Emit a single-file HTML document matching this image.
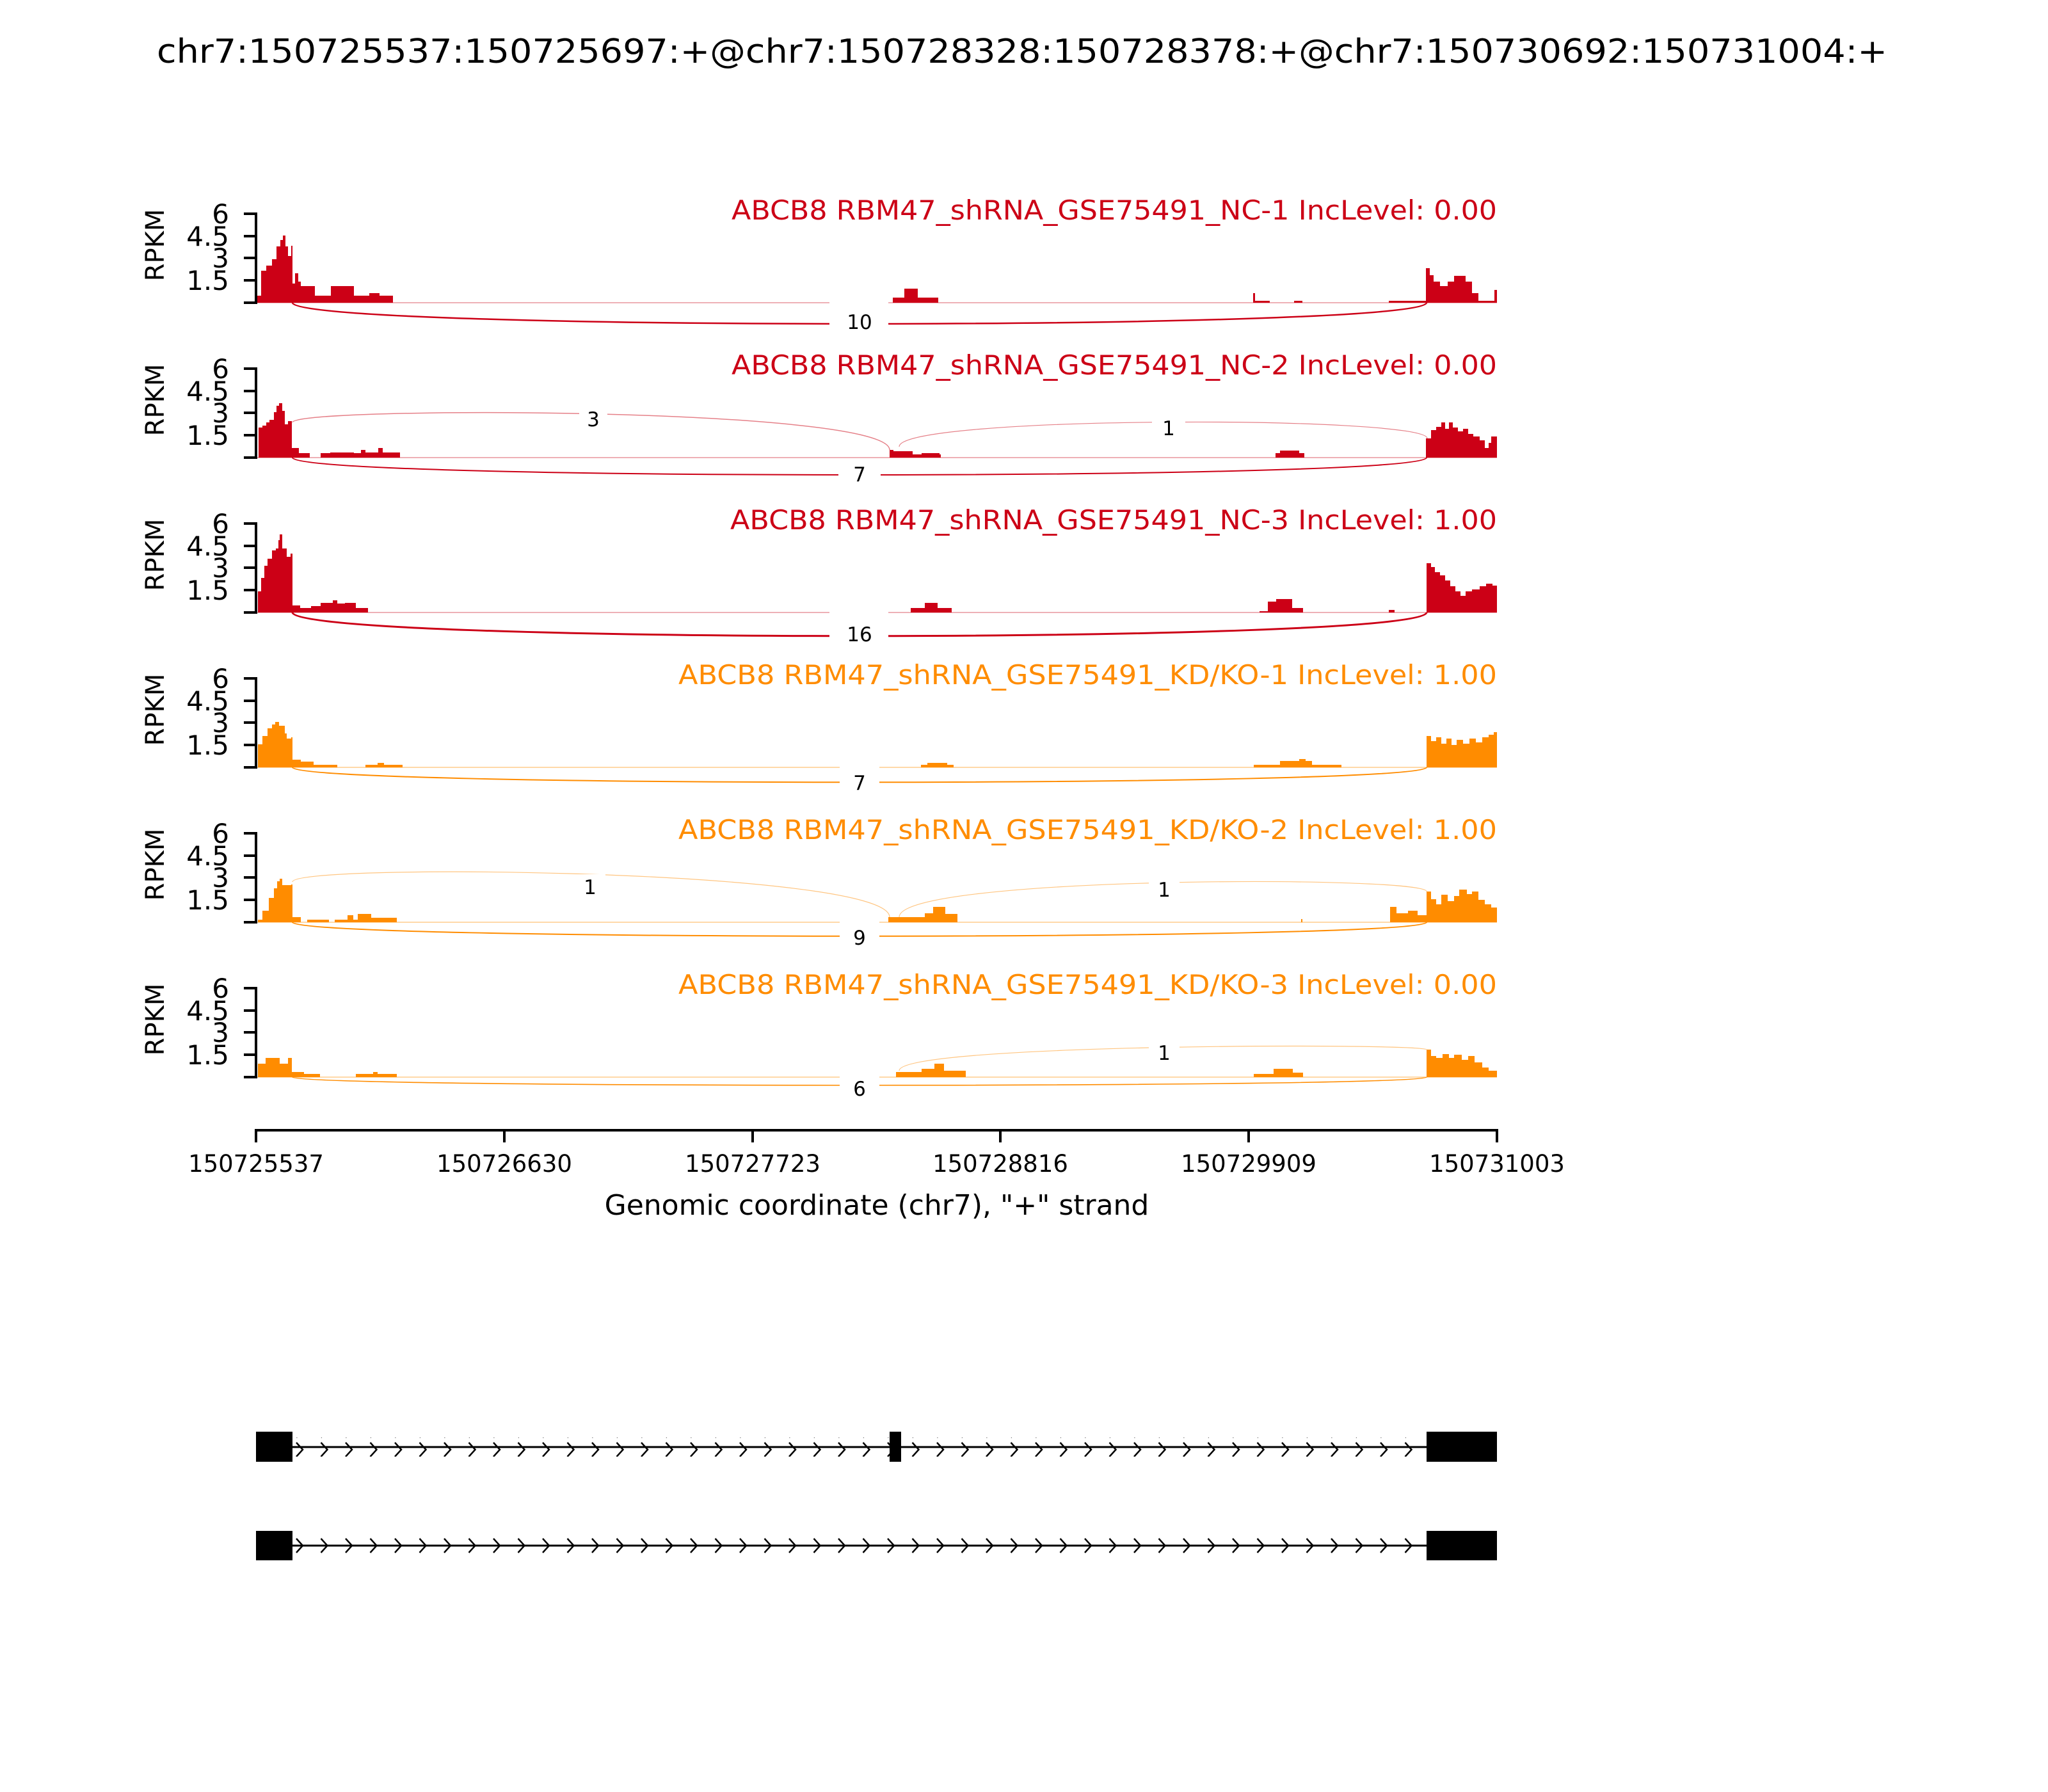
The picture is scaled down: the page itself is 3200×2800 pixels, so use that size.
<!DOCTYPE html>
<html><head><meta charset="utf-8"><style>html,body{margin:0;padding:0;background:#fff}svg{display:block}</style></head>
<body>
<svg xmlns="http://www.w3.org/2000/svg" width="3200" height="2800" viewBox="0 0 3200 2800" font-family="DejaVu Sans, Liberation Sans, sans-serif">
<rect width="3200" height="2800" fill="#fff"/>
<text x="1597" y="98" font-size="52" text-anchor="middle" textLength="2704" lengthAdjust="spacingAndGlyphs">chr7:150725537:150725697:+@chr7:150728328:150728378:+@chr7:150730692:150731004:+</text>

<defs>
<g id="yax">
<line x1="400" y1="332" x2="400" y2="475" stroke="#000" stroke-width="4"/>
<g stroke="#000" stroke-width="4">
<line x1="381" y1="334" x2="400" y2="334"/><line x1="381" y1="369" x2="400" y2="369"/><line x1="381" y1="403" x2="400" y2="403"/><line x1="381" y1="438" x2="400" y2="438"/><line x1="381" y1="473" x2="400" y2="473"/>
</g>
<g font-size="42" text-anchor="end">
<text x="358" y="349">6</text><text x="358" y="384">4.5</text><text x="358" y="418">3</text><text x="358" y="453">1.5</text>
</g>
<text transform="translate(256,383) rotate(-90)" font-size="40" text-anchor="middle">RPKM</text>
</g>
</defs>

<!-- Panel 1 -->
<g>
<use href="#yax"/>
<text x="2339" y="343" font-size="42" fill="#cc0016" text-anchor="end" textLength="1196" lengthAdjust="spacingAndGlyphs">ABCB8 RBM47_shRNA_GSE75491_NC-1 IncLevel: 0.00</text>
<line x1="402" y1="473" x2="2339" y2="473" stroke="#eeb0b6" stroke-width="2"/>
<g fill="#cc0016">
<path d="M402,473 V462 H408 V423 H416 V415 H425 V405 H432 V385 H438 V375 H442 V368 H446 V385 H450 V400 H455 V384 H457 V443 H461 V427 H466 V440 H470 V447 H492 V462 H517 V447 H553 V462 H577 V458 H593 V462 H614 V473 Z"/>
<path d="M1395,473 V465 H1413 V451 H1434 V465 H1466 V473 Z"/>
<path d="M1958,473 V458 H1961 V470 H1984 V473 Z"/>
<path d="M2022,473 V470 H2035 V473 Z"/>
<path d="M2170,473 V470 H2228 V419 H2234 V430 H2240 V440 H2250 V447 H2262 V440 H2272 V431 H2290 V440 H2300 V458 H2310 V470 H2335 V453 H2339 V473 Z"/>
</g>
<path d="M457,473 C457,517 2229,517 2229,473" fill="none" stroke="#cc0016" stroke-width="2.5"/>
<rect x="1296" y="470" width="92" height="46" fill="#fff"/>
<text x="1343" y="514" font-size="31" text-anchor="middle">10</text>
</g>

<!-- Panel 2 -->
<g transform="translate(0,242)">
<use href="#yax"/>
<text x="2339" y="343" font-size="42" fill="#cc0016" text-anchor="end" textLength="1196" lengthAdjust="spacingAndGlyphs">ABCB8 RBM47_shRNA_GSE75491_NC-2 IncLevel: 0.00</text>
<line x1="402" y1="473" x2="2339" y2="473" stroke="#eeb0b6" stroke-width="2"/>
<g fill="#cc0016">
<path d="M404,473 V426 H410 V423 H416 V418 H421 V414 H428 V402 H432 V392 H436 V388 H441 V400 H445 V421 H450 V416 H456 V458 H467 V466 H484 V473 Z"/>
<path d="M501,473 V466 H516 V465 H553 V466 H564 V461 H571 V465 H591 V458 H598 V465 H625 V473 Z"/>
<path d="M1390,473 V461 H1396 V463 H1426 V468 H1440 V466 H1468 V468 H1470 V473 Z"/>
<path d="M1993,473 V466 H2000 V462 H2030 V466 H2038 V473 Z"/>
<path d="M2228,473 V443 H2236 V430 H2244 V425 H2252 V418 H2258 V428 H2264 V418 H2270 V426 H2278 V432 H2286 V428 H2294 V436 H2302 V440 H2312 V446 H2320 V458 H2326 V450 H2330 V440 H2339 V473 Z"/>
</g>
<path d="M457,473 C457,509 2229,509 2229,473" fill="none" stroke="#cc0016" stroke-width="2"/>
<rect x="1310" y="478" width="66" height="36" fill="#fff"/>
<text x="1343" y="510" font-size="31" text-anchor="middle">7</text>
<path d="M457,418 C457,393 1390,393 1390,461" fill="none" stroke="#e58088" stroke-width="1.5"/>
<rect x="905" y="392" width="44" height="36" fill="#fff"/>
<text x="927" y="424" font-size="31" text-anchor="middle">3</text>
<path d="M1405,456 C1405,407 2230,407 2230,443" fill="none" stroke="#e58088" stroke-width="1.2"/>
<rect x="1800" y="406" width="52" height="36" fill="#fff"/>
<text x="1826" y="438" font-size="31" text-anchor="middle">1</text>
</g>

<!-- Panel 3 -->
<g transform="translate(0,484)">
<use href="#yax"/>
<text x="2339" y="343" font-size="42" fill="#cc0016" text-anchor="end" textLength="1198" lengthAdjust="spacingAndGlyphs">ABCB8 RBM47_shRNA_GSE75491_NC-3 IncLevel: 1.00</text>
<line x1="402" y1="473" x2="2339" y2="473" stroke="#eeb0b6" stroke-width="2"/>
<g fill="#cc0016">
<path d="M403,473 V440 H408 V419 H413 V400 H418 V389 H425 V376 H431 V373 H435 V360 H437 V351 H441 V373 H448 V386 H454 V381 H457 V462 H469 V466 H486 V463 H501 V458 H508 V458 H520 V454 H527 V459 H539 V458 H556 V466 H575 V473 Z"/>
<path d="M1423,473 V466 H1445 V458 H1465 V466 H1487 V473 Z"/>
<path d="M1968,473 V471 H1981 V456 H1994 V452 H2019 V466 H2036 V473 Z"/>
<path d="M2170,473 V469 H2179 V473 Z"/>
<path d="M2229,473 V396 H2236 V402 H2242 V410 H2250 V415 H2258 V423 H2266 V432 H2274 V440 H2282 V447 H2290 V440 H2300 V437 H2312 V432 H2322 V428 H2332 V431 H2339 V473 Z"/>
</g>
<path d="M457,473 C457,522 2229,522 2229,473" fill="none" stroke="#cc0016" stroke-width="3"/>
<rect x="1296" y="470" width="92" height="50" fill="#fff"/>
<text x="1343" y="518" font-size="31" text-anchor="middle">16</text>
</g>

<!-- Panel 4 -->
<g transform="translate(0,726)">
<use href="#yax"/>
<text x="2339" y="343" font-size="42" fill="#ff8c00" text-anchor="end" textLength="1279" lengthAdjust="spacingAndGlyphs">ABCB8 RBM47_shRNA_GSE75491_KD/KO-1 IncLevel: 1.00</text>
<line x1="402" y1="473" x2="2339" y2="473" stroke="#ffd9a8" stroke-width="2"/>
<g fill="#ff8c00">
<path d="M403,473 V437 H410 V424 H418 V412 H425 V406 H430 V402 H436 V408 H445 V420 H448 V428 H455 V426 H457 V461 H470 V464 H490 V469 H527 V473 Z"/>
<path d="M571,473 V469 H590 V466 H600 V469 H629 V473 Z"/>
<path d="M1439,473 V469 H1449 V466 H1480 V469 H1490 V473 Z"/>
<path d="M1959,473 V469 H2000 V463 H2030 V460 H2040 V463 H2050 V469 H2096 V473 Z"/>
<path d="M2229,473 V424 H2236 V432 H2244 V426 H2252 V436 H2260 V428 H2268 V438 H2276 V430 H2286 V436 H2296 V428 H2306 V434 H2316 V426 H2326 V422 H2334 V418 H2339 V473 Z"/>
</g>
<path d="M457,473 C457,504 2229,504 2229,473" fill="none" stroke="#ff8c00" stroke-width="2"/>
<rect x="1312" y="471" width="62" height="42" fill="#fff"/>
<text x="1343" y="508" font-size="31" text-anchor="middle">7</text>
</g>

<!-- Panel 5 -->
<g transform="translate(0,968)">
<use href="#yax"/>
<text x="2339" y="343" font-size="42" fill="#ff8c00" text-anchor="end" textLength="1279" lengthAdjust="spacingAndGlyphs">ABCB8 RBM47_shRNA_GSE75491_KD/KO-2 IncLevel: 1.00</text>
<line x1="402" y1="473" x2="2339" y2="473" stroke="#ffd9a8" stroke-width="2"/>
<g fill="#ff8c00">
<path d="M403,473 V469 H410 V455 H420 V435 H428 V420 H433 V409 H437 V405 H441 V415 H455 V414 H457 V465 H470 V473 Z"/>
<path d="M480,473 V469 H514 V473 Z"/>
<path d="M523,473 V469 H543 V462 H552 V469 H559 V460 H580 V466 H620 V473 Z"/>
<path d="M1388,473 V465 H1445 V459 H1458 V449 H1477 V460 H1496 V473 Z"/>
<path d="M2033,473 V468 H2035 V473 Z"/>
<path d="M2172,473 V449 H2182 V459 H2200 V455 H2215 V462 H2229 V425 H2236 V437 H2244 V445 H2252 V430 H2262 V440 H2272 V432 H2280 V422 H2292 V429 H2300 V425 H2310 V438 H2320 V445 H2330 V450 H2339 V473 Z"/>
</g>
<path d="M457,473 C457,502 2229,502 2229,473" fill="none" stroke="#ff8c00" stroke-width="2"/>
<rect x="1312" y="471" width="62" height="43" fill="#fff"/>
<text x="1343" y="508" font-size="31" text-anchor="middle">9</text>
<path d="M457,410 C457,380 1390,390 1390,465" fill="none" stroke="#ffc580" stroke-width="1.2"/>
<rect x="898" y="398" width="48" height="36" fill="#fff"/>
<text x="922" y="429" font-size="31" text-anchor="middle">1</text>
<path d="M1405,465 C1405,400 2229,400 2229,425" fill="none" stroke="#ffc580" stroke-width="1.2"/>
<rect x="1795" y="402" width="48" height="36" fill="#fff"/>
<text x="1819" y="433" font-size="31" text-anchor="middle">1</text>
</g>

<!-- Panel 6 -->
<g transform="translate(0,1210)">
<use href="#yax"/>
<text x="2339" y="343" font-size="42" fill="#ff8c00" text-anchor="end" textLength="1279" lengthAdjust="spacingAndGlyphs">ABCB8 RBM47_shRNA_GSE75491_KD/KO-3 IncLevel: 0.00</text>
<line x1="402" y1="473" x2="2339" y2="473" stroke="#ffd9a8" stroke-width="2"/>
<g fill="#ff8c00">
<path d="M403,473 V452 H415 V443 H437 V452 H450 V443 H456 V465 H475 V468 H500 V473 Z"/>
<path d="M556,473 V468 H583 V465 H590 V468 H620 V473 Z"/>
<path d="M1400,473 V465 H1440 V460 H1460 V452 H1475 V463 H1509 V473 Z"/>
<path d="M1959,473 V468 H1990 V460 H2020 V466 H2036 V473 Z"/>
<path d="M2229,473 V430 H2236 V440 H2244 V443 H2254 V437 H2264 V443 H2272 V438 H2284 V446 H2294 V440 H2304 V450 H2316 V458 H2326 V463 H2339 V473 Z"/>
</g>
<path d="M457,473 C457,490 2229,490 2229,473" fill="none" stroke="#ff8c00" stroke-width="1.6"/>
<rect x="1312" y="470" width="62" height="38" fill="#fff"/>
<text x="1343" y="502" font-size="31" text-anchor="middle">6</text>
<path d="M1405,463 C1405,420 2229,420 2229,430" fill="none" stroke="#ffc580" stroke-width="1.2"/>
<rect x="1795" y="415" width="48" height="36" fill="#fff"/>
<text x="1819" y="446" font-size="31" text-anchor="middle">1</text>
</g>

<!-- X axis -->
<line x1="398" y1="1766" x2="2341" y2="1766" stroke="#000" stroke-width="4"/>
<g stroke="#000" stroke-width="4">
<line x1="400" y1="1766" x2="400" y2="1785"/><line x1="788" y1="1766" x2="788" y2="1785"/><line x1="1176" y1="1766" x2="1176" y2="1785"/><line x1="1563" y1="1766" x2="1563" y2="1785"/><line x1="1951" y1="1766" x2="1951" y2="1785"/><line x1="2339" y1="1766" x2="2339" y2="1785"/>
</g>
<g font-size="37" text-anchor="middle">
<text x="400" y="1831">150725537</text><text x="788" y="1831">150726630</text><text x="1176" y="1831">150727723</text><text x="1563" y="1831">150728816</text><text x="1951" y="1831">150729909</text><text x="2339" y="1831">150731003</text>
</g>
<text x="1370" y="1898" font-size="44" text-anchor="middle">Genomic coordinate (chr7), "+" strand</text>

<!-- Gene tracks -->
<defs>
<pattern id="chev" x="0" y="0" width="38.5" height="30" patternUnits="userSpaceOnUse">
<path d="M1,4 L11,15 L1,26" fill="none" stroke="#000" stroke-width="2.5"/>
</pattern>
</defs>
<g>
<line x1="457" y1="2261" x2="2229" y2="2261" stroke="#000" stroke-width="3"/>
<rect x="462" y="2246" width="1767" height="30" fill="url(#chev)"/>
<rect x="400" y="2237" width="57" height="47" fill="#000"/>
<rect x="1390" y="2237" width="18" height="47" fill="#000"/>
<rect x="2229" y="2237" width="110" height="47" fill="#000"/>
</g>
<g>
<line x1="457" y1="2415" x2="2229" y2="2415" stroke="#000" stroke-width="3"/>
<rect x="462" y="2400" width="1767" height="30" fill="url(#chev)"/>
<rect x="400" y="2392" width="57" height="46" fill="#000"/>
<rect x="2229" y="2392" width="110" height="46" fill="#000"/>
</g>
</svg>
</body></html>
